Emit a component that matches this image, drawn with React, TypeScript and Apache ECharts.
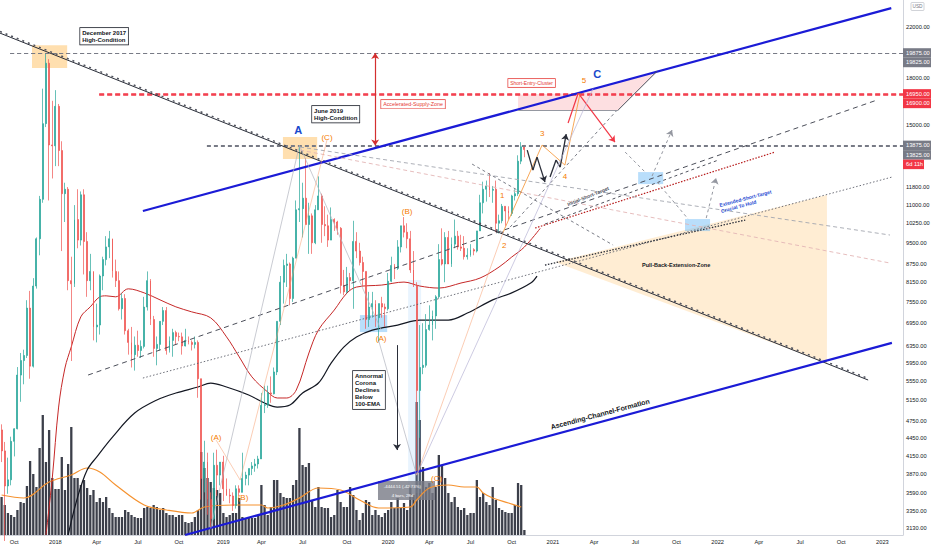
import React, { useEffect, useRef } from "react";
import * as echarts from "echarts";

const FONT = "'Liberation Sans', Arial, Helvetica, sans-serif";
const FIRST_WEEK_UTC = Date.UTC(2017, 8, 4);
const WEEK_COUNT = 285;
const PRICE_MIN = 3050;
const PRICE_MAX = 24420;

// weekly [open, high, low, close]
const candles: number[][] = [
  [4590,4690,4050,4230],[4230,4380,2980,3690],[3690,4120,3580,3780],[3780,4470,3700,4390],
  [4390,4620,4140,4610],[4610,5860,4600,5680],[5680,6190,5120,6010],[6010,6270,5480,6130],
  [6130,7600,6070,7370],[7370,7880,5600,5880],[5880,8280,5850,8030],[8030,9700,7950,9650],
  [9650,11400,9050,11250],[11250,17300,11100,15100],[15100,19875,14900,19100],[19100,19400,11200,13900],
  [13900,16500,12200,13850],
  [13850,17200,12800,16150],[16150,16300,12800,13600],[13600,14100,9200,11500],[11500,12000,10300,11700],
  [11700,11800,7900,8200],[8200,9000,6000,8100],[8100,11000,8000,10400],[10400,11700,9300,9600],
  [9600,11600,9400,11450],[11450,11700,8400,9550],[9550,9900,7700,8200],[8200,9100,7900,8500],
  [8500,8500,6500,6850],[6850,7500,6450,6900],[6900,8400,6650,8350],[8350,9000,7900,8900],
  [8900,9750,8700,9350],[9350,9950,8950,9650],[9650,9650,8300,8500],[8500,8900,8000,8200],
  [8200,8500,7300,7350],[7350,7800,7050,7650],[7650,7780,6650,6750],[6750,6800,6150,6450],
  [6450,6850,5850,6150],[6150,6600,5780,6380],[6380,6750,6100,6250],[6250,6500,6070,6350],
  [6350,7700,6300,7400],[7400,8500,7300,8200],[8200,8250,6900,7050],[7050,7150,6100,6300],
  [6300,6600,5900,6400],[6400,7000,6250,7000],[7000,7400,6900,7300],[7300,7400,6150,6250],
  [6250,6600,6200,6500],[6500,6800,6100,6700],[6700,6750,6400,6600],[6600,6700,6480,6590],
  [6590,6700,6150,6360],[6360,6800,6350,6500],[6500,6600,6400,6450],[6450,6500,6250,6400],
  [6400,6600,6300,6450],[6450,6500,5200,5600],[5600,5600,3500,3800],[3800,4400,3600,4050],
  [4050,4200,3300,3500],[3500,3600,3130,3250],[3250,4200,3230,4000],[4000,4250,3550,3850],
  [3850,4050,3700,4050],
  [4050,4150,3480,3650],[3650,3800,3550,3560],[3560,3650,3450,3550],[3550,3600,3350,3420],
  [3420,3700,3380,3650],[3650,3700,3550,3600],[3600,4200,3600,3800],[3800,3900,3700,3850],
  [3850,3950,3700,3950],[3950,4050,3850,3990],[3990,4100,3900,4020],[4020,4150,3950,4100],
  [4100,5300,4100,5050],[5050,5450,4900,5060],[5060,5450,5000,5300],[5300,5650,5100,5280],
  [5280,5850,5270,5750],[5750,7000,5680,7000],[7000,8350,6900,8150],[8150,8900,7500,8700],
  [8700,9100,8000,8750],[8750,8800,7450,7650],[7650,9000,7550,8950],[8950,11200,8950,10800],
  [10800,13875,10300,10850],[10850,12000,9700,11300],[11300,13200,11000,10200],[10200,11100,9100,10550],
  [10550,10650,9100,9500],[9500,11000,9450,10800],[10800,12300,10800,11400],[11400,11500,9500,10200],
  [10200,10950,9750,10150],[10150,10600,9350,9600],[9600,10900,9600,10400],[10400,10450,9950,10300],
  [10300,10350,9800,10050],[10050,10100,7800,8050],[8050,8550,7750,7850],[7850,8650,7800,8300],
  [8300,8450,7900,8200],[8200,10350,7350,9550],[9550,9900,8950,9200],[9200,9500,8700,8800],
  [8800,9000,8000,8500],[8500,8500,6800,7050],[7050,7850,6850,7400],[7400,7850,7100,7500],
  [7500,7600,6850,7100],[7100,7500,6450,7500],[7500,7700,7100,7400],[7400,7500,6850,7350],
  [7350,8450,7300,8180],[8180,9000,8150,8700],[8700,8750,8250,8600],[8600,9600,8550,9350],
  [9350,10150,9150,10150],[10150,10500,9700,9900],[9900,10250,9300,9650],[9650,9950,8450,8550],
  [8550,9200,8000,8050],[8050,8150,3850,5350],[5350,6900,4450,5850],[5850,6950,5700,5900],
  [5900,7200,5850,6780],[6780,7450,6750,6900],[6900,7300,6500,7150],[7150,7750,6800,7700],
  [7700,9450,7650,8900],[8900,10050,8700,8750],[8750,9900,8150,9700],[9700,9950,8800,8750],
  [8750,9700,8650,9450],[9450,10400,9300,9750],[9750,9950,9250,9350],[9350,9800,9200,9300],
  [9300,9750,8900,9000],[9000,9300,8900,9050],[9050,9450,9000,9250],[9250,9300,9050,9200],
  [9200,9950,9150,9950],[9950,11450,9950,11100],[11100,12050,10650,11700],[11700,12100,11150,11850],
  [11850,12450,11350,11650],[11650,11850,11100,11700],[11700,12100,9900,10250],[10250,10600,9850,10350],
  [10350,11050,10250,10950],[10950,10950,10150,10750],[10750,10950,10400,10650],[10650,11450,10550,11400],
  [11400,11700,11200,11500],[11500,13350,11400,13050],[13050,14050,12900,13800],[13800,13900,13250,13650],
];

// weekly volume (relative units)
const volumes: number[] = [
  38,30,22,20,18,25,33,32,49,74,61,48,87,120,73,105,57,46,46,78,
  45,71,108,57,57,50,55,47,40,45,33,37,33,38,27,22,18,18,18,25,
  23,20,18,17,17,27,28,27,30,28,25,27,22,20,20,18,20,20,13,12,
  13,18,25,83,67,57,53,47,45,42,22,18,20,22,22,37,18,17,17,17,
  17,20,50,30,20,28,55,55,42,38,37,37,50,55,107,70,68,72,35,28,
  48,28,27,27,18,20,45,33,28,28,48,40,25,15,22,35,33,20,25,20,
  18,22,25,33,27,37,27,32,25,48,40,133,115,68,48,52,42,48,80,70,
  57,42,33,38,28,25,27,20,22,22,55,38,42,33,30,48,35,27,25,23,
  22,22,30,52,50,5,
];

// [week index, value]
const emaFast: number[][] = [
  [14,3050],[16,3806],[18,5016],[20,5838],[22,6339],[25,7123],[28,7406],[31,7700],[33,7730],
  [36,7700],[40,7943],[45,7820],[50,7610],[55,7406],[60,7263],[66,7096],[71,6590],[75,6097],
  [79,5641],[84,5318],[87,5196],[90,5196],[93,5359],[97,6189],[100,6767],[105,7314],[109,7814],
  [112,7998],[120,8061],[127,8155],[132,8030],[138,7967],[145,8125],[151,8283],[157,8645],
  [161,8988],[165,9345],[170,10048],
];
const emaSlow: number[][] = [
  [21,3050],[24,3535],[27,3926],[30,4130],[35,4464],[42,4900],[49,5155],[55,5297],[62,5422],
  [66,5507],[71,5422],[78,5256],[83,5095],[87,5016],[91,5056],[95,5297],[100,5507],[104,5951],
  [108,6334],[112,6586],[117,6767],[125,6900],[132,7035],[141,7035],[147,7229],[155,7610],
  [161,7820],[167,8125],[169,8348],
];
const volumeMa: number[][] = [
  [0,40],[7,37],[15,53],[22,60],[27,67],[31,63],[36,50],[45,30],[52,25],[60,22],[64,28],
  [73,30],[82,30],[84,27],[89,30],[94,37],[100,47],[107,45],[113,35],[119,27],[129,28],
  [131,35],[135,47],[141,50],[146,48],[150,48],[152,42],[155,37],[160,32],[164,28],
];

const priceTicks = [3130,3350,3590,3870,4150,4450,4750,5150,5550,5950,6350,6950,7550,8150,8750,9500,10250,11000,11800,15000,18000,22000];
const quarterNames: Record<number, string> = { 3: "Apr", 6: "Jul", 9: "Oct" };

const lg = (p: number) => Math.log10(p);

const weekLabels: string[] = [];
for (let k = 0; k < WEEK_COUNT; k++) {
  weekLabels.push(new Date(FIRST_WEEK_UTC + k * 604800000).toISOString().slice(0, 10));
}

// ---- annotations in [week index, price] ----
type Drawing = { pts: number[][]; color: string; width: number; dash?: any; head?: "end" | "both"; opacity?: number };
const GRAY = "#787b86";
const drawings: Drawing[] = [
  { pts: [[2.7, 19875], [284.5, 19875]], color: GRAY, width: 1, dash: [4, 3] },
  { pts: [[2.7, 19825], [284.5, 19825]], color: GRAY, width: 1, dash: [4, 3] },
  { pts: [[64.8, 13875], [284.5, 13875]], color: GRAY, width: 1, dash: [4, 3] },
  { pts: [[64.8, 13825], [284.5, 13825]], color: GRAY, width: 1, dash: [4, 3] },
  { pts: [[30.8, 16950], [284.5, 16950]], color: "#f23645", width: 1.5, dash: [5, 3] },
  { pts: [[30.8, 16900], [284.5, 16900]], color: "#f23645", width: 1.5, dash: [5, 3] },
  { pts: [[-0.5, 21470], [273.5, 5572]], color: "#2a2e39", width: 1 },
  { pts: [[-0.5, 21600], [273.5, 5605]], color: "#50535e", width: 1.5, dash: [2, 4] },
  { pts: [[44.6, 10748], [280.8, 23665]], color: "#1b1bd6", width: 2.2 },
  { pts: [[57.9, 3050], [281, 6438]], color: "#1b1bd6", width: 2.2 },
  { pts: [[27.3, 5681], [276.3, 16550]], color: "#4c4f5a", width: 1, dash: [5, 4] },
  { pts: [[44.6, 5615], [281, 12266]], color: "#5d606b", width: 0.9, dash: [1.5, 2] },
  { pts: [[168.4, 10061], [244.1, 13520]], color: "#b71c1c", width: 1.2, dash: [1.5, 1.5] },
  { pts: [[171.5, 10219], [226.2, 13105]], color: "#50535e", width: 1, dash: [3, 3] },
  { pts: [[171.5, 8712], [234.7, 10378]], color: "#2a2e39", width: 1.3, dash: [1.5, 1.5] },
  { pts: [[94.2, 13785], [280.4, 9791]], color: "#a3a6af", width: 0.9, dash: [4, 3] },
  { pts: [[94.2, 13625], [280.4, 8781]], color: "#e3b5b5", width: 0.9, dash: [4, 3] },
  { pts: [[148.5, 12902], [193, 9417]], color: "#6a6d78", width: 0.9, dash: [3, 3] },
  { pts: [[160.5, 10100], [194.3, 15920]], color: "#6a6d78", width: 0.9, dash: [3, 3] },
  { pts: [[163, 15920], [194.6, 15920]], color: "#9598a1", width: 1 },
  { pts: [[194.6, 15920], [206.9, 18515]], color: "#4c4f5a", width: 1 },
  { pts: [[117.9, 19875], [117.9, 13875]], color: "#d32f2f", width: 1.2, head: "both" },
  { pts: [[182, 17006], [193.6, 14054]], color: "#f23645", width: 1.2, head: "end" },
  { pts: [[178.8, 15134], [182, 17006]], color: "#f23645", width: 1.2 },
  { pts: [[158.3, 9905], [170.6, 13893], [177.8, 12852], [182.6, 17006]], color: "#f5922f", width: 0.8 },
  { pts: [[165.9, 13625], [167.7, 12605], [169, 13258], [171.5, 12030]], color: "#2a2e39", width: 1.3, head: "end" },
  { pts: [[173.1, 12266], [175, 13105], [176.3, 12753], [178.2, 14500]], color: "#2a2e39", width: 1.3, head: "end" },
  { pts: [[196.8, 13520], [203.1, 12508]], color: "#9598a1", width: 1, dash: [3, 3] },
  { pts: [[205.3, 12315], [211.6, 14728]], color: "#9598a1", width: 1, dash: [3, 3], head: "end" },
  { pts: [[206.9, 12030], [216.7, 10419]], color: "#9598a1", width: 1, dash: [3, 3] },
  { pts: [[222.4, 10460], [225.5, 12219]], color: "#9598a1", width: 1, dash: [3, 3], head: "end" },
  { pts: [[66, 3130], [94, 13875]], color: "#b2b5be", width: 0.7 },
  { pts: [[94, 13875], [119.8, 6767]], color: "#b2b5be", width: 0.7 },
  { pts: [[119, 6500], [131, 3850]], color: "#b2b5be", width: 0.7 },
  { pts: [[131, 3850], [186.7, 17300]], color: "#b8b4d6", width: 0.7 },
  { pts: [[67.7, 4412], [75.3, 3777], [102.7, 14167]], color: "#f7a072", width: 0.7, opacity: 0.75 },
  { pts: [[131, 3850], [158.3, 9905]], color: "#f7a072", width: 0.7, opacity: 0.75 },
  { pts: [[124.8, 6382], [124.8, 4244]], color: "#2a2e39", width: 1, head: "end" },
];

type Zone = { pts: number[][]; fill: string };
const rect = (a: number[], b: number[]) => [[a[0], a[1]], [b[0], a[1]], [b[0], b[1]], [a[0], b[1]]];
const zones: Zone[] = [
  { pts: [[174.7, 8815], [260.5, 11437], [260.5, 5951]], fill: "rgba(255,204,128,0.35)" },
  { pts: rect([128.3, 8219], [132.4, 3590]), fill: "rgba(144,202,249,0.2)" },
  { pts: rect([9.6, 20490], [20.7, 18743]), fill: "rgba(255,183,77,0.45)" },
  { pts: rect([88.8, 14331], [99.6, 13156]), fill: "rgba(255,183,77,0.45)" },
  { pts: rect([113.1, 7173], [121.7, 6714]), fill: "rgba(100,181,246,0.45)" },
  { pts: rect([200.9, 12508], [208.8, 11937]), fill: "rgba(100,181,246,0.45)" },
  { pts: rect([215.7, 10419], [223.6, 9944]), fill: "rgba(100,181,246,0.45)" },
  { pts: [[163, 15920], [163, 16900], [181.6, 17006], [206.9, 18515], [194.6, 15920]], fill: "rgba(242,54,69,0.16)" },
  { pts: rect([118.8, 3762], [136.8, 3494]), fill: "rgba(120,123,134,0.8)" },
];

type Note = { at: number[]; text: string; size: number; color: string; bold?: boolean; box?: string; align?: string; valign?: string; rot?: number };
const BLUE_T = "#1848cc";
const ORANGE_T = "#f57c00";
const notes: Note[] = [
  { at: [24.8, 21895], text: "December 2017\nHigh-Condition", size: 6, color: "#131722", bold: true, box: "#131722", align: "left", valign: "top" },
  { at: [98, 16167], text: "June 2019\nHigh-Condition", size: 6, color: "#131722", bold: true, box: "#131722", align: "left", valign: "top" },
  { at: [119.8, 16550], text: "Accelerated-Supply-Zone", size: 5.3, color: "#e53935", box: "#e53935", align: "left", valign: "top" },
  { at: [159.9, 17957], text: "Short-Entry-Cluster", size: 5, color: "#e53935", box: "#e53935", align: "left", valign: "top" },
  { at: [110.9, 5770], text: "Annormal\nCorona\nDeclines\nBelow\n100-EMA", size: 6, color: "#131722", bold: true, box: "#131722", align: "left", valign: "top" },
  { at: [185.1, 11394], text: "Initial-Short-Target", size: 5, color: "#50535e", bold: true, rot: 0.38 },
  { at: [226.8, 10874], text: "Extended-Short-Target\nCrucial To Hold", size: 5, color: "#1e4bd2", bold: true, align: "left", rot: 0.26 },
  { at: [212.9, 8712], text: "Pull-Back-Extension-Zone", size: 5.5, color: "#131722", bold: true },
  { at: [188.9, 4882], text: "Ascending-Channel-Formation", size: 7, color: "#131722", bold: true, rot: 0.26 },
  { at: [93.6, 14728], text: "A", size: 11, color: BLUE_T, bold: true },
  { at: [188, 18308], text: "C", size: 11, color: BLUE_T, bold: true },
  { at: [102.7, 14331], text: "(C)", size: 8, color: ORANGE_T },
  { at: [128, 10748], text: "(B)", size: 8, color: ORANGE_T },
  { at: [119.8, 6560], text: "(A)", size: 8, color: ORANGE_T },
  { at: [67.7, 4463], text: "(A)", size: 8, color: ORANGE_T },
  { at: [76.2, 3535], text: "(B)", size: 8, color: ORANGE_T },
  { at: [137.3, 3800], text: "(C)", size: 8, color: ORANGE_T },
  { at: [158, 11437], text: "1", size: 8, color: ORANGE_T },
  { at: [158.6, 9417], text: "2", size: 8, color: ORANGE_T },
  { at: [170.6, 14555], text: "3", size: 8, color: ORANGE_T },
  { at: [177.8, 12315], text: "4", size: 8, color: ORANGE_T },
  { at: [183.8, 17886], text: "5", size: 8, color: ORANGE_T },
  { at: [126.5, 3690], text: "-4444.51 (-42.73%)", size: 4.3, color: "#ffffff" },
  { at: [126.5, 3563], text: "4 bars, 28d", size: 4.3, color: "#ffffff" },
];

// right-side price boxes
const axisBoxes = [
  { price: 19875, rows: ["19875.00", "19825.00"], color: "#787b86" },
  { price: 16950, rows: ["16950.00", "16900.00"], color: "#f23645" },
  { price: 13875, rows: ["13875.00", "13825.00"], color: "#787b86" },
];
const countdownText = "6d 11h";

function buildOption(): any {
  const segs: any[] = [];
  drawings.forEach((d) => {
    for (let k = 0; k < d.pts.length - 1; k++) {
      const a = d.pts[k];
      const b = d.pts[k + 1];
      const last = k === d.pts.length - 2;
      segs.push([
        {
          coord: [a[0], lg(a[1])],
          symbol: d.head === "both" && k === 0 ? "arrow" : "none",
          symbolSize: 6,
          lineStyle: { color: d.color, width: d.width, type: d.dash || "solid", opacity: d.opacity ?? 1 },
        },
        { coord: [b[0], lg(b[1])], symbol: d.head && last ? "arrow" : "none", symbolSize: 6 },
      ]);
    }
  });

  const axisText = { fontSize: 5.7, color: "#131722", fontFamily: FONT };

  return {
    animation: false,
    backgroundColor: "#ffffff",
    grid: [
      { left: 0, right: 29, top: 0, bottom: 15, containLabel: false, outerBoundsMode: "none" },
      { left: 0, right: 29, top: 395, bottom: 15, containLabel: false, outerBoundsMode: "none" },
    ],
    xAxis: [
      {
        type: "category",
        gridIndex: 0,
        data: weekLabels,
        boundaryGap: true,
        axisLine: { show: true, onZero: false, lineStyle: { color: "#d1d4dc" } },
        axisTick: { show: false },
        splitLine: { show: false },
        axisLabel: {
          ...axisText,
          margin: 4,
          interval: (_i: number, v: string) => {
            const m = +v.slice(5, 7) - 1;
            const d = +v.slice(8, 10);
            return m % 3 === 0 && d <= 7;
          },
          formatter: (v: string) => {
            const m = +v.slice(5, 7) - 1;
            return m === 0 ? v.slice(0, 4) : quarterNames[m] || "";
          },
        },
      },
      { type: "value", gridIndex: 0, min: -0.5, max: WEEK_COUNT - 0.5, show: false },
      { type: "category", gridIndex: 1, data: weekLabels, show: false },
    ],
    yAxis: [
      {
        type: "value",
        gridIndex: 0,
        position: "right",
        min: lg(PRICE_MIN),
        max: lg(PRICE_MAX),
        splitLine: { show: false },
        axisTick: { show: false },
        axisLine: { show: true, onZero: false, lineStyle: { color: "#d1d4dc" } },
        axisLabel: {
          ...axisText,
          margin: 3,
          customValues: priceTicks.map(lg),
          formatter: (v: number) => Math.round(Math.pow(10, v)).toFixed(2),
        },
      },
      { type: "value", gridIndex: 1, min: 0, max: 140, show: false, splitLine: { show: false } },
    ],
    series: [
      {
        type: "bar",
        xAxisIndex: 2,
        yAxisIndex: 1,
        data: volumes,
        barWidth: 2.3,
        itemStyle: { color: "#3c3f4a" },
        silent: true,
        z: 1,
      },
      {
        type: "line",
        xAxisIndex: 2,
        yAxisIndex: 1,
        data: volumeMa,
        smooth: 0.35,
        symbol: "none",
        lineStyle: { color: "#f5922f", width: 1.2 },
        silent: true,
        z: 2,
      },
      {
        type: "custom",
        xAxisIndex: 1,
        yAxisIndex: 0,
        clip: true,
        silent: true,
        z: 2,
        data: zones.map((zn) => [zn.pts[0][0], lg(zn.pts[0][1])]),
        renderItem: (params: any, api: any) => {
          const zn = zones[params.dataIndex];
          return {
            type: "polygon",
            shape: { points: zn.pts.map((p) => api.coord([p[0], lg(p[1])])) },
            style: { fill: zn.fill },
          };
        },
      },
      {
        type: "line",
        xAxisIndex: 0,
        yAxisIndex: 0,
        data: emaFast.map((p) => [p[0], lg(p[1])]),
        smooth: 0.35,
        symbol: "none",
        lineStyle: { color: "#c62828", width: 1 },
        silent: true,
        z: 3,
      },
      {
        type: "line",
        xAxisIndex: 0,
        yAxisIndex: 0,
        data: emaSlow.map((p) => [p[0], lg(p[1])]),
        smooth: 0.35,
        symbol: "none",
        lineStyle: { color: "#131722", width: 1.2 },
        silent: true,
        z: 3,
      },
      {
        type: "candlestick",
        xAxisIndex: 0,
        yAxisIndex: 0,
        data: candles.map(([o, h, l, c]) => [lg(o), lg(c), lg(l), lg(h)]),
        barWidth: 1.4,
        itemStyle: {
          color: "#26a69a",
          color0: "#ef5350",
          borderColor: "#26a69a",
          borderColor0: "#ef5350",
          borderWidth: 0.7,
        },
        silent: true,
        z: 4,
      },
      {
        type: "line",
        xAxisIndex: 1,
        yAxisIndex: 0,
        data: [[-0.5, lg(PRICE_MIN)]],
        symbol: "none",
        showSymbol: false,
        lineStyle: { width: 0, opacity: 0 },
        silent: true,
        z: 6,
        markLine: {
          silent: true,
          animation: false,
          symbol: ["none", "none"],
          label: { show: false },
          emphasis: { disabled: true },
          data: segs,
        },
      },
      {
        type: "custom",
        xAxisIndex: 1,
        yAxisIndex: 0,
        clip: false,
        silent: true,
        z: 8,
        data: notes.map((n) => [n.at[0], lg(n.at[1])]),
        renderItem: (params: any, api: any) => {
          const n = notes[params.dataIndex];
          const pt = api.coord([n.at[0], lg(n.at[1])]);
          const style: any = {
            text: n.text,
            fill: n.color,
            fontSize: n.size,
            fontWeight: n.bold ? "bold" : "normal",
            fontFamily: FONT,
            align: n.align || "center",
            verticalAlign: n.valign || "middle",
            lineHeight: n.size * 1.2,
          };
          if (n.box) {
            style.backgroundColor = "rgba(255,255,255,0.95)";
            style.borderColor = n.box;
            style.borderWidth = 0.7;
            style.padding = [1, 2];
          }
          return { type: "text", x: pt[0], y: pt[1], rotation: n.rot || 0, style };
        },
      },
    ],
  };
}

export default function App() {
  const ref = useRef<HTMLDivElement>(null);
  useEffect(() => {
    if (!ref.current) return;
    const chart = echarts.init(ref.current, null, { renderer: "svg" });
    chart.setOption(buildOption());

    const py = (p: number) => chart.convertToPixel({ yAxisIndex: 0 } as any, lg(p)) as number;
    const graphics: any[] = [];
    const rowH = 9.5;
    const bx = 903;
    const bw = 28;
    axisBoxes.forEach((b) => {
      const y0 = py(b.price);
      b.rows.forEach((t, k) => {
        const cy = y0 + k * rowH;
        graphics.push({
          type: "rect",
          shape: { x: bx, y: cy - rowH / 2, width: bw, height: rowH },
          style: { fill: b.color },
          z: 100,
        });
        graphics.push({
          type: "text",
          x: bx + 3,
          y: cy,
          style: { text: t, fill: "#ffffff", fontSize: 5.7, fontFamily: FONT, verticalAlign: "middle", align: "left" },
          z: 101,
        });
      });
    });
    const cdY = py(13875) + 2 * rowH;
    graphics.push({ type: "rect", shape: { x: bx, y: cdY - rowH / 2, width: 21, height: rowH }, style: { fill: "#f23645" }, z: 100 });
    graphics.push({
      type: "text",
      x: bx + 3,
      y: cdY,
      style: { text: countdownText, fill: "#ffffff", fontSize: 5.7, fontFamily: FONT, verticalAlign: "middle", align: "left" },
      z: 101,
    });
    graphics.push({ type: "rect", shape: { x: 911, y: 2.5, width: 13, height: 8, r: 1 }, style: { fill: "#ffffff", stroke: "#b2b5be", lineWidth: 0.6 }, z: 100 });
    graphics.push({
      type: "text",
      x: 917.5,
      y: 6.5,
      style: { text: "USD", fill: "#787b86", fontSize: 4.8, fontFamily: FONT, verticalAlign: "middle", align: "center" },
      z: 101,
    });
    chart.setOption({ graphic: graphics });

    return () => chart.dispose();
  }, []);
  return (
    <div
      ref={ref}
      style={{ position: "fixed", left: 0, top: 0, width: 932, height: 550, background: "#ffffff" }}
    />
  );
}
